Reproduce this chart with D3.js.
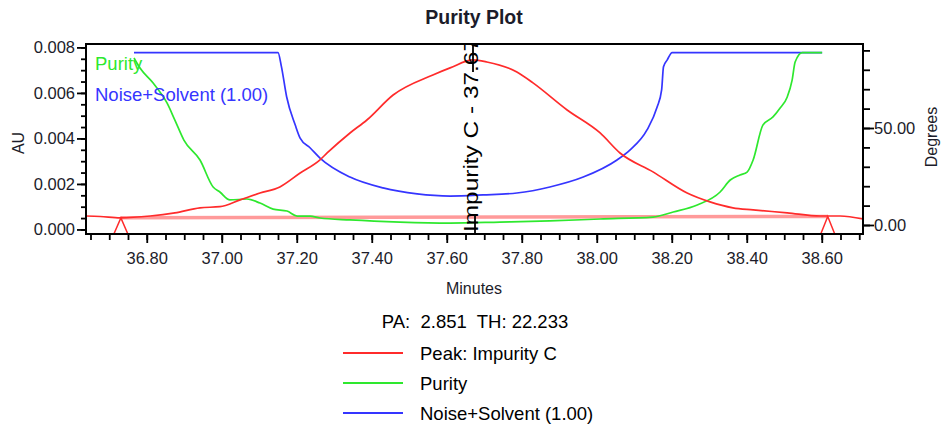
<!DOCTYPE html>
<html>
<head>
<meta charset="utf-8">
<script src="https://cdn.jsdelivr.net/npm/d3@7"></script>
<style>
  html, body { margin: 0; padding: 0; background: #fff; }
  svg { display: block; font-family: "Liberation Sans", Arial, sans-serif; }
</style>
</head>
<body>
<svg id="chart" width="941" height="432"></svg>
<script>
// ---- Peak chromatogram (AU, left axis) ----
const peakTime = [36.638, 36.676, 36.729, 36.809, 36.875, 36.942, 36.995, 37.049, 37.102, 37.155,
                  37.209, 37.262, 37.281, 37.342, 37.387, 37.457, 37.563, 37.609, 37.670, 37.707,
                  37.787, 37.830, 37.921, 38.009, 38.062, 38.150, 38.241, 38.302, 38.363, 38.417,
                  38.508, 38.596, 38.649, 38.710];
const peakAU   = [0.00059, 0.00057, 0.00051, 0.00059, 0.00073, 0.00095, 0.00100, 0.00130, 0.00160, 0.00187,
                  0.00248, 0.00306, 0.00336, 0.00424, 0.00481, 0.00591, 0.00679, 0.00710, 0.00745, 0.00736,
                  0.00692, 0.00644, 0.00525, 0.00424, 0.00336, 0.00253, 0.00160, 0.00121, 0.00095, 0.00086,
                  0.00073, 0.00059, 0.00059, 0.00046];

// ---- Purity angle (degrees, right axis) ----
const purityTime = [36.766, 36.782, 36.817, 36.854, 36.875, 36.899, 36.942, 36.977, 36.995, 37.022,
                    37.067, 37.102, 37.137, 37.174, 37.201, 37.236, 37.262, 37.342, 37.475, 37.609,
                    37.742, 37.875, 38.009, 38.150, 38.204, 38.268, 38.329, 38.356, 38.382, 38.401,
                    38.417, 38.443, 38.470, 38.489, 38.508, 38.521, 38.529, 38.548, 38.601];
const purityDeg  = [86.1, 80.9, 73.2, 62.9, 54.1, 43.8, 33.5, 19.6, 17.0, 12.9,
                    13.4, 11.3, 8.2, 7.2, 4.6, 4.6, 3.6, 2.6, 1.5, 1.0,
                    1.5, 2.1, 3.1, 4.1, 6.7, 10.3, 17.0, 23.2, 25.8, 27.3,
                    33.5, 51.5, 55.7, 60.3, 66.0, 74.7, 84.0, 88.9, 88.9];

// ---- Noise+Solvent threshold (degrees, right axis) ----
const thresholdTime = [36.766, 37.150, 37.159, 37.173, 37.196, 37.209, 37.236, 37.262, 37.342, 37.430,
                       37.521, 37.609, 37.697, 37.787, 37.875, 37.964, 38.054, 38.089, 38.134, 38.161,
                       38.173, 38.178, 38.188, 38.201, 38.601];
const thresholdDeg  = [88.9, 88.9, 81.8, 66.1, 51.5, 44.8, 39.7, 34.5, 24.7, 19.1,
                       16.0, 14.9, 15.5, 16.5, 19.6, 24.7, 33.5, 38.7, 49.0, 60.8,
                       69.6, 81.6, 85.1, 88.9, 88.9];

// ---- Integration baseline (start, end) and apex ----
const baselineTime = [36.731, 38.616];
const baselineAU   = [0.00051, 0.00057];
const apexTime = 37.67;
const peakName = "Impurity C";

// ---- Axis ticks ----
const auTicks   = [0, 0.002, 0.004, 0.006, 0.008];
const degTicks  = [0, 50];
const timeTicks = [36.8, 37.0, 37.2, 37.4, 37.6, 37.8, 38.0, 38.2, 38.4, 38.6];

// ---- Legend / summary ----
const seriesNames  = ["Peak: Impurity C", "Purity", "Noise+Solvent (1.00)"];
const seriesColors = ["#ff2b2b", "#2ee82e", "#3535ff"];
const paValue = "2.851";
const thValue = "22.233";

const svg = d3.select("#chart");
const textColor = "#1c1c2a";

const plotLeft = 86, plotRight = 863, plotTop = 44, plotBottom = 234;
const x    = d3.scaleLinear().domain([36.638, 38.710]).range([plotLeft, plotRight]);
const yAU  = d3.scaleLinear().domain([-0.0002, 0.00815]).range([plotBottom, plotTop]);
const yDeg = d3.scaleLinear().domain([-4.64, 93.3]).range([plotBottom, plotTop]);

// Title
svg.append("text").attr("x", 474).attr("y", 24).attr("text-anchor", "middle")
  .attr("font-size", 19.5).attr("font-weight", "bold").attr("fill", textColor)
  .text("Purity Plot");

svg.append("defs").append("clipPath").attr("id", "plotClip")
  .append("rect").attr("x", plotLeft).attr("y", plotTop)
  .attr("width", plotRight - plotLeft).attr("height", plotBottom - plotTop);

const plot = svg.append("g").attr("clip-path", "url(#plotClip)");

// Baseline under the peak
plot.append("line")
  .attr("x1", x(baselineTime[0])).attr("y1", yAU(baselineAU[0]))
  .attr("x2", x(baselineTime[1])).attr("y2", yAU(baselineAU[1]))
  .attr("stroke", "#ff9a9a").attr("stroke-width", 3.5);

const lineOf = (ts, vs, ys) => d3.line()
  .x((d, i) => x(ts[i])).y((d, i) => ys(vs[i])).curve(d3.curveMonotoneX)(vs);

plot.append("path").attr("d", lineOf(thresholdTime, thresholdDeg, yDeg))
  .attr("fill", "none").attr("stroke", seriesColors[2]).attr("stroke-width", 1.7);
plot.append("path").attr("d", lineOf(purityTime, purityDeg, yDeg))
  .attr("fill", "none").attr("stroke", seriesColors[1]).attr("stroke-width", 1.7);
plot.append("path").attr("d", lineOf(peakTime, peakAU, yAU))
  .attr("fill", "none").attr("stroke", seriesColors[0]).attr("stroke-width", 1.7);

// Peak start / end markers
baselineTime.forEach((t, i) => {
  const px = x(t), py = yAU(baselineAU[i]);
  plot.append("path")
    .attr("d", `M${px - 7},${plotBottom} L${px},${py} L${px + 7},${plotBottom}`)
    .attr("fill", "none").attr("stroke", seriesColors[0]).attr("stroke-width", 1.5);
});

// Apex marker and peak label
const ax = x(apexTime);
plot.append("line").attr("x1", ax).attr("x2", ax).attr("y1", plotTop).attr("y2", plotTop + 28)
  .attr("stroke", "#000").attr("stroke-width", 1.8);
plot.append("line").attr("x1", ax + 2).attr("x2", ax + 2).attr("y1", plotBottom - 18).attr("y2", plotBottom)
  .attr("stroke", "#000").attr("stroke-width", 1.8);
plot.append("text")
  .attr("transform", `translate(${ax + 5},${plotBottom - 2}) rotate(-90)`)
  .attr("font-size", 20).attr("fill", "#000")
  .attr("textLength", 194).attr("lengthAdjust", "spacingAndGlyphs")
  .text(`${peakName} - ${apexTime.toFixed(2)}`);

// In-plot legend
plot.append("text").attr("x", 95).attr("y", 70).attr("font-size", 18.5)
  .attr("fill", seriesColors[1]).text(seriesNames[1]);
plot.append("text").attr("x", 95).attr("y", 101).attr("font-size", 18.5)
  .attr("fill", seriesColors[2]).text(seriesNames[2]);

// Frame
svg.append("rect").attr("x", plotLeft).attr("y", plotTop)
  .attr("width", plotRight - plotLeft).attr("height", plotBottom - plotTop)
  .attr("fill", "none").attr("stroke", "#000").attr("stroke-width", 2);

function styleAxis(g) {
  g.select(".domain").remove();
  g.selectAll("line").attr("stroke", "#000").attr("stroke-width", 1.8);
  g.selectAll("text").attr("font-size", 16.5).attr("fill", textColor)
    .attr("font-family", "'Liberation Sans', Arial, sans-serif");
}

// Left axis (AU)
svg.append("g").attr("transform", `translate(${plotLeft},0)`)
  .call(d3.axisLeft(yAU).tickValues(d3.range(0, 0.00801, 0.0005)).tickSize(5).tickFormat(""))
  .call(styleAxis);
svg.append("g").attr("transform", `translate(${plotLeft},0)`)
  .call(d3.axisLeft(yAU).tickValues(auTicks).tickSize(9).tickPadding(2).tickFormat(d3.format(".3f")))
  .call(styleAxis);

// Bottom axis (Minutes)
svg.append("g").attr("transform", `translate(0,${plotBottom})`)
  .call(d3.axisBottom(x).tickValues(d3.range(36.65, 38.701, 0.05)).tickSize(6).tickFormat(""))
  .call(styleAxis);
svg.append("g").attr("transform", `translate(0,${plotBottom})`)
  .call(d3.axisBottom(x).tickValues(timeTicks).tickSize(9).tickPadding(9).tickFormat(d3.format(".2f")))
  .call(styleAxis);

// Right axis (Degrees)
svg.append("g").attr("transform", `translate(${plotRight},0)`)
  .call(d3.axisRight(yDeg).tickValues(d3.range(0, 90.1, 10)).tickSize(7).tickFormat(""))
  .call(styleAxis);
svg.append("g").attr("transform", `translate(${plotRight},0)`)
  .call(d3.axisRight(yDeg).tickValues(degTicks).tickSize(11).tickPadding(0).tickFormat(d3.format(".2f")))
  .call(styleAxis);

// Axis titles
svg.append("text").attr("transform", "translate(24,143) rotate(-90)").attr("text-anchor", "middle")
  .attr("font-size", 16).attr("fill", textColor).text("AU");
svg.append("text").attr("transform", "translate(937,137) rotate(-90)").attr("text-anchor", "middle")
  .attr("font-size", 16).attr("fill", textColor).text("Degrees");
svg.append("text").attr("x", 474).attr("y", 294).attr("text-anchor", "middle")
  .attr("font-size", 16).attr("fill", textColor).text("Minutes");

// Summary line
svg.append("text").attr("x", 475).attr("y", 328).attr("text-anchor", "middle")
  .attr("font-size", 18.5).attr("fill", "#000")
  .style("white-space", "pre")
  .text(`PA:  ${paValue}  TH: ${thValue}`);

// Bottom legend
seriesNames.forEach((name, i) => {
  const ly = 353 + i * 30;
  svg.append("line").attr("x1", 343).attr("x2", 403).attr("y1", ly).attr("y2", ly)
    .attr("stroke", seriesColors[i]).attr("stroke-width", 2);
  svg.append("text").attr("x", 420).attr("y", ly + 7).attr("font-size", 18.5)
    .attr("fill", "#000").text(name);
});
</script>
</body>
</html>
